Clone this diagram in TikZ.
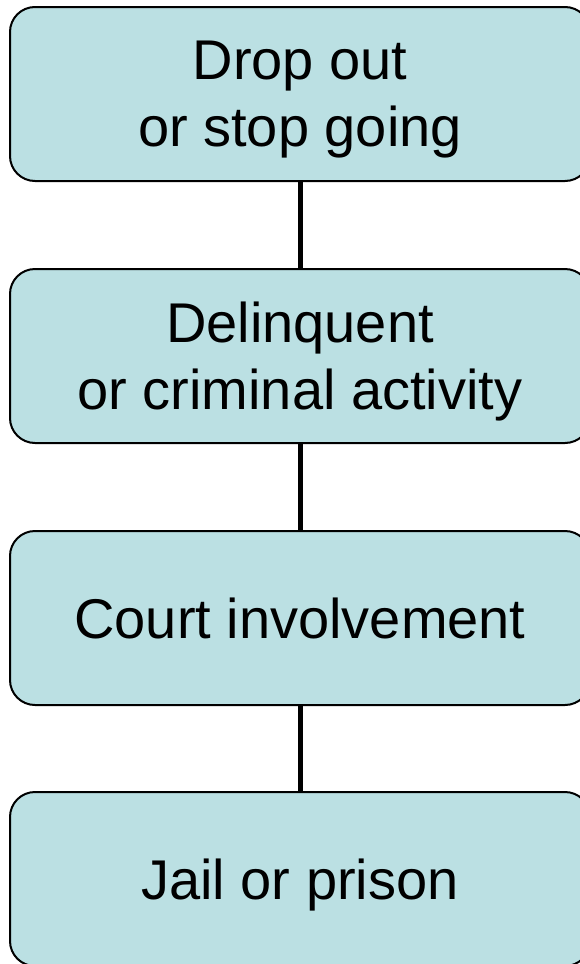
\documentclass[tikz,border=0pt]{standalone}
\usepackage{fontspec}
\setmainfont{Liberation Sans}
\definecolor{boxfill}{HTML}{BBE0E3}
\begin{document}
\begin{tikzpicture}[x=1pt,y=-1pt,
  stagebox/.style={draw=black, line width=2pt, fill=boxfill, rounded corners=25pt,
    minimum width=580pt, minimum height=174pt, inner sep=0pt, align=center,
    text depth=0pt, font=\fontsize{56}{67}\selectfont},
  link/.style={line width=5pt}]
  \useasboundingbox (0,0) rectangle (580,964);
  \clip (0,0) rectangle (580,964);
  \node[stagebox] (drop)   at (300,94)  {Drop out\\or stop going};
  \node[stagebox] (delinq) at (300,356) {Delinquent\\or criminal activity};
  \node[stagebox] (court)  at (300,618) {Court involvement};
  \node[stagebox] (jail)   at (300,879) {Jail or prison};
  \draw[link] (drop) -- (delinq);
  \draw[link] (delinq) -- (court);
  \draw[link] (court) -- (jail);
\end{tikzpicture}
\end{document}
